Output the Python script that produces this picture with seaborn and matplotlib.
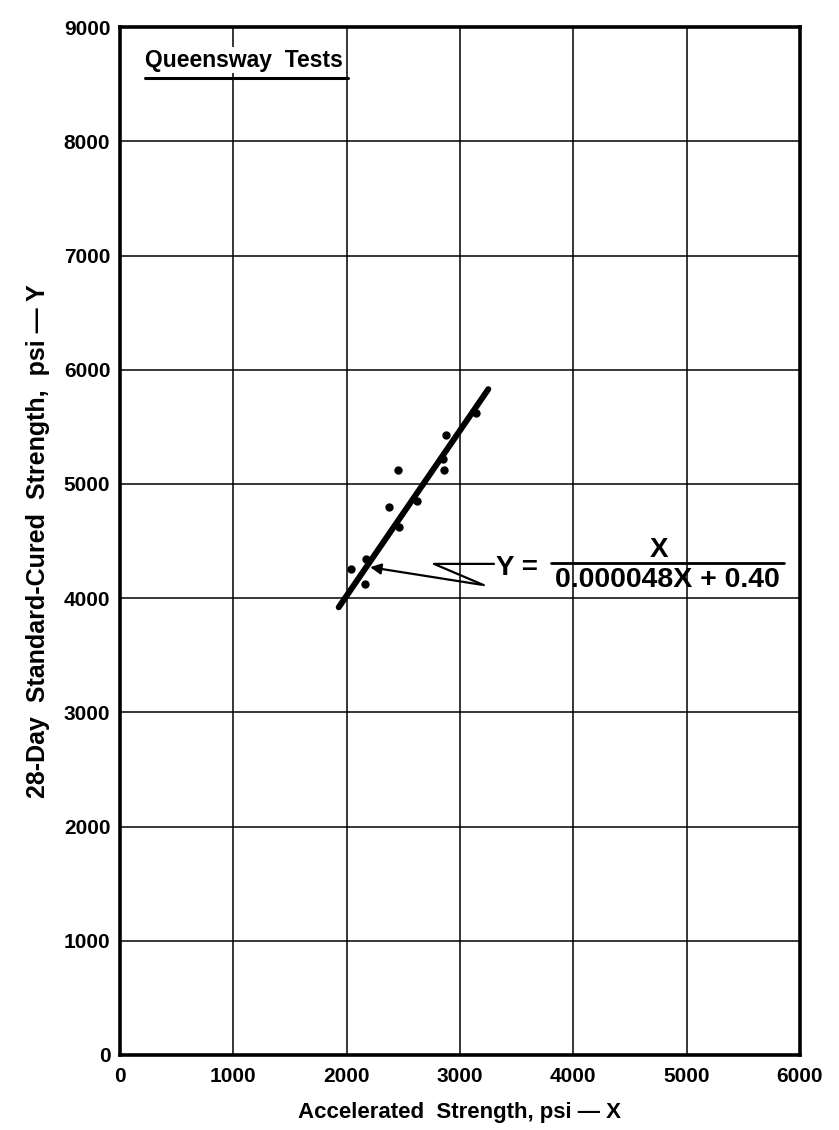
import matplotlib
matplotlib.use("Agg")
import matplotlib.pyplot as plt
import seaborn as sns
import pandas as pd

# Data
accel_x = [3137, 2881, 2849, 2858, 2452, 2623, 2373, 2464, 2174, 2041, 2159]
std_y = [5617, 5427, 5222, 5120, 5125, 4851, 4798, 4623, 4345, 4258, 4121]
fit_x = [1930, 3250]
fit_y = [3920, 5830]
x_ticks = [0, 1000, 2000, 3000, 4000, 5000, 6000]
y_ticks = [0, 1000, 2000, 3000, 4000, 5000, 6000, 7000, 8000, 9000]

sns.set_style("white")
plt.rcParams['font.family'] = ['Liberation Sans', 'DejaVu Sans']
plt.rcParams['text.color'] = 'black'
plt.rcParams['axes.labelcolor'] = 'black'
plt.rcParams['xtick.color'] = 'black'
plt.rcParams['ytick.color'] = 'black'

fig = plt.figure(figsize=(8.39, 11.30), dpi=100)
ax = fig.add_axes([0.143, 0.0664, 0.8105, 0.9096])

pts = pd.DataFrame({"x": accel_x, "y": std_y})
fit = pd.DataFrame({"x": fit_x, "y": fit_y})

sns.lineplot(data=fit, x="x", y="y", ax=ax, color="black", linewidth=4.3,
             solid_capstyle="round", zorder=4)
sns.scatterplot(data=pts, x="x", y="y", ax=ax, color="black", s=36,
                edgecolor="black", linewidth=0, zorder=5)

ax.set_xlim(0, 6000)
ax.set_ylim(0, 9000)
ax.set_xticks(x_ticks)
ax.set_yticks(y_ticks)
ax.set_xticklabels([str(v) for v in x_ticks], fontsize=15, fontweight="bold")
ax.set_yticklabels([str(v) for v in y_ticks], fontsize=15, fontweight="bold")
ax.tick_params(axis="x", length=0, pad=9)
ax.tick_params(axis="y", length=0, pad=7)
ax.grid(True, color="black", linewidth=1.1)
ax.set_axisbelow(True)
for sp in ax.spines.values():
    sp.set_visible(True)
    sp.set_color("black")
    sp.set_linewidth(2.6)

ax.set_xlabel("Accelerated  Strength, psi — X", fontsize=16, fontweight="bold", labelpad=11)
ax.set_ylabel("28-Day  Standard-Cured  Strength,  psi — Y", fontsize=18, fontweight="bold",
              labelpad=10)

# Title inside the plot, underlined
ax.text(220, 8710, "Queensway  Tests", fontsize=16.5, fontweight="bold", ha="left", va="center",
        zorder=6, bbox=dict(facecolor="white", edgecolor="none", pad=1))
ax.plot([220, 2010], [8553, 8553], color="black", linewidth=2.2, zorder=6)

# Equation annotation with Z-shaped pointer
ax.plot([3300, 2770, 3210], [4300, 4300, 4114], color="black", linewidth=1.6, zorder=6)
ax.annotate("", xy=(2183, 4275), xytext=(3210, 4114),
            arrowprops=dict(arrowstyle="-|>", color="black", lw=1.6, mutation_scale=16),
            zorder=6)
ax.text(3320, 4262, "Y =", fontsize=20, fontweight="bold", ha="left", va="center", zorder=6)
ax.plot([3800, 5860], [4304, 4304], color="black", linewidth=2.0, zorder=6)
ax.text(4760, 4420, "X", fontsize=20, fontweight="bold", ha="center", va="center", zorder=6)
ax.text(4830, 4160, "0.000048X + 0.40", fontsize=20.5, fontweight="bold", ha="center",
        va="center", zorder=6)

fig.savefig("out.png", dpi=100, facecolor="white")
